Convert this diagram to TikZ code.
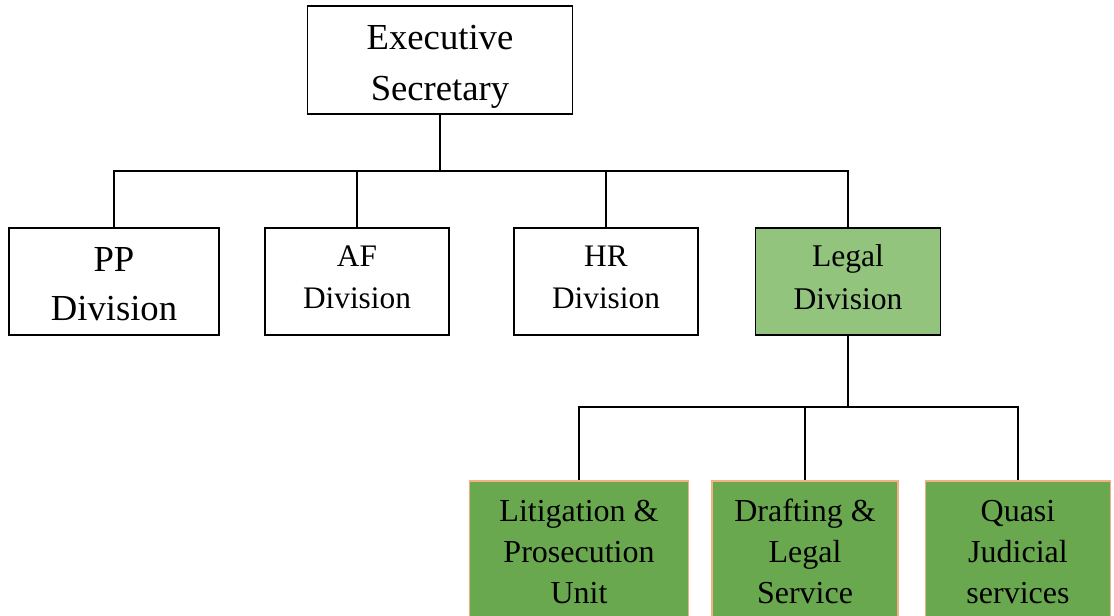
\documentclass[tikz,border=0pt]{standalone}
\usepackage{fontspec}
\setmainfont{Liberation Serif}
\definecolor{lightgreen}{HTML}{93C47D}
\definecolor{darkgreen}{HTML}{6AA84F}
\definecolor{peach}{HTML}{F4B183}
% first-line height and last-line depth struts
\newcommand{\topst}[1]{\rule{0pt}{#1}}
\newcommand{\botst}[1]{\rule[-#1]{0pt}{#1}}
\begin{document}
\begin{tikzpicture}[x=0.75pt,y=-0.75pt,
  box/.style={draw=black, line width=1.3pt, align=center, inner sep=0pt},
  sub/.style={draw=peach, fill=darkgreen, line width=1.3pt, align=center, inner sep=0pt,
    minimum height=106.5pt, font=\fontsize{24}{30.75}\selectfont},
  link/.style={line width=1.3pt}]
\clip (0,0) rectangle (1114,615);
\useasboundingbox (0,0) rectangle (1114,615);
\fill[white] (0,0) rectangle (1114,615);

\node[box, minimum width=198.75pt, minimum height=81pt, font=\fontsize{27.5}{38.25}\selectfont] (exec) at (440,60) {\topst{28.75pt}Executive\\Secretary\botst{7pt}};

\node[box, minimum width=157.5pt, minimum height=80.25pt, font=\fontsize{27.5}{36.75}\selectfont] (pp) at (114,281.5) {\topst{28pt}PP\\Division\botst{7pt}};
\node[box, minimum width=138pt, minimum height=80.25pt, font=\fontsize{23.5}{31.5}\selectfont] (af) at (357,281.5) {\topst{18.25pt}AF\\Division\botst{10pt}};
\node[box, minimum width=138pt, minimum height=80.25pt, font=\fontsize{23.5}{31.5}\selectfont] (hr) at (606,281.5) {\topst{18.25pt}HR\\Division\botst{10pt}};
\node[box, fill=lightgreen, minimum width=138.75pt, minimum height=80.25pt, font=\fontsize{23.7}{32.25}\selectfont] (legal) at (848,281.5) {\topst{19pt}Legal\\Division\botst{10pt}};

\node[sub, minimum width=164.25pt] (lit) at (579,552) {\topst{25pt}Litigation \&\\Prosecution\\Unit\botst{10pt}};
\node[sub, minimum width=139.5pt] (draft) at (805,552) {\topst{25pt}Drafting \&\\Legal\\Service\botst{10pt}};
\node[sub, minimum width=138.75pt] (quasi) at (1018,552) {\topst{25pt}Quasi\\Judicial\\services\botst{10pt}};

\coordinate (bus1) at (440,171);
\coordinate (bus2) at (848,407);

\draw[link] (exec.south) -- (bus1);
\draw[link] (pp.north) |- (bus1);
\draw[link] (af.north) |- (bus1);
\draw[link] (hr.north) |- (bus1);
\draw[link] (legal.north) |- (bus1);

\draw[link] (legal.south) -- (bus2);
\draw[link] (lit.north) |- (bus2);
\draw[link] (draft.north) |- (bus2);
\draw[link] (quasi.north) |- (bus2);
\end{tikzpicture}
\end{document}
